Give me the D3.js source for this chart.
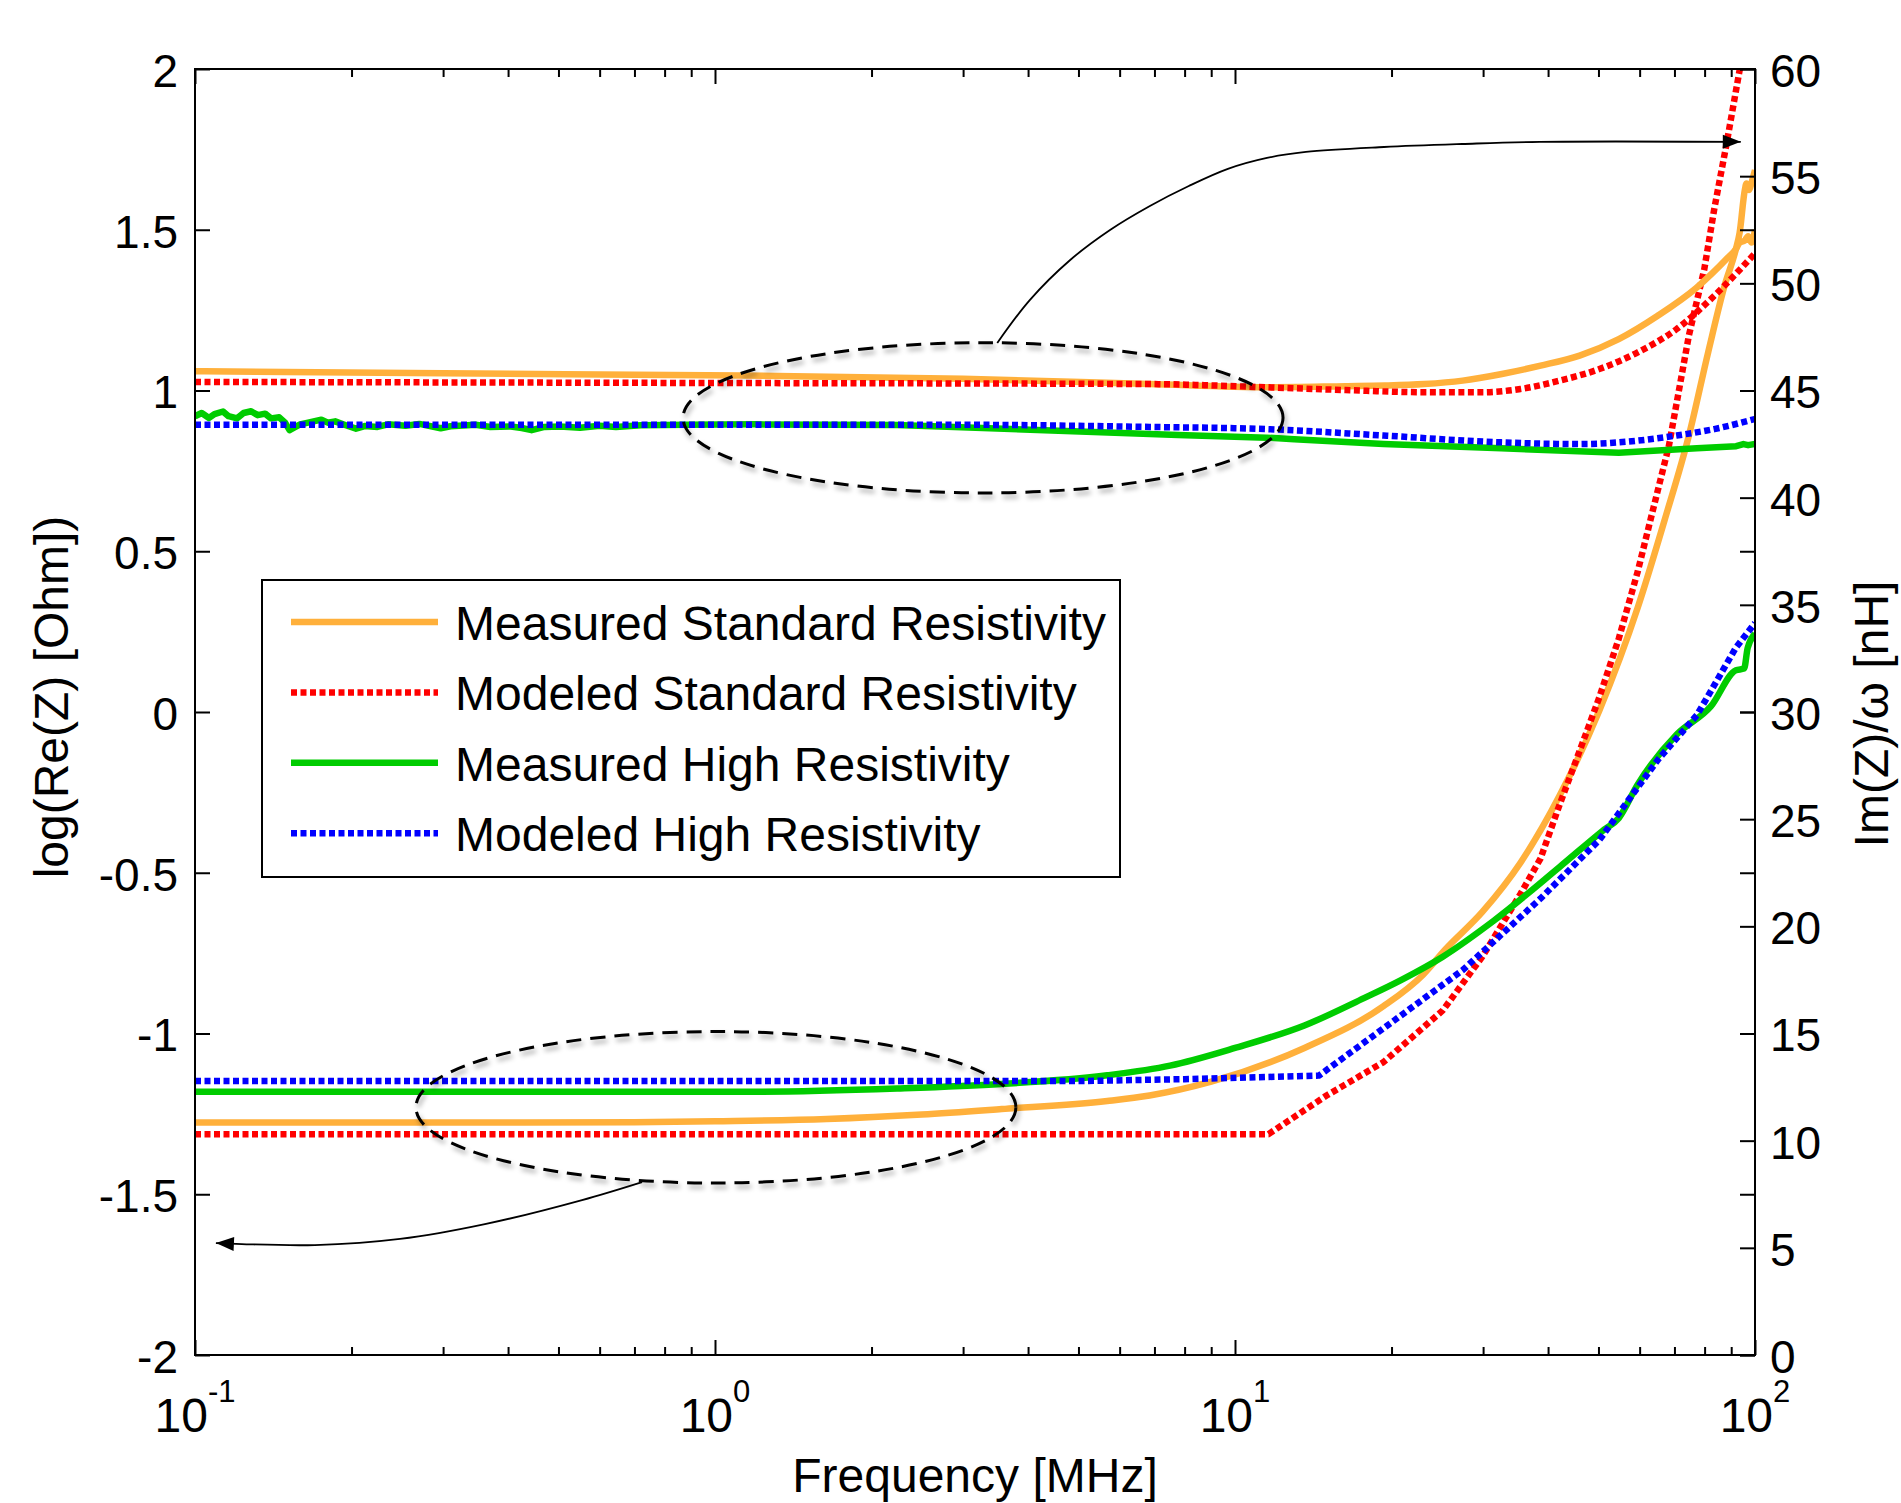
<!DOCTYPE html>
<html><head><meta charset="utf-8">
<script src="https://cdn.jsdelivr.net/npm/d3@7"></script>
<style>
html,body{margin:0;padding:0;background:#fff;}
svg text{font-family:"Liberation Sans",Arial,Helvetica,sans-serif;fill:#000;}
</style></head>
<body>
<svg id="chart" width="1901" height="1503"></svg>
<script>
// ---------- DATA ----------
// Frequency in MHz; log(Re(Z)) on left axis; Im(Z)/omega [nH] on right axis
const xMajorTicks = [0.1, 1, 10, 100];
const xMajorLabels = [["10","-1"],["10","0"],["10","1"],["10","2"]];
const leftTicks = [-2,-1.5,-1,-0.5,0,0.5,1,1.5,2];
const rightTicks = [0,5,10,15,20,25,30,35,40,45,50,55,60];

const seriesNames = ["Measured Standard Resistivity","Modeled Standard Resistivity","Measured High Resistivity","Modeled High Resistivity"];

// log(Re(Z)) curves (left axis)
const measStdRe = [[0.1,-1.277],[0.3,-1.277],[0.7,-1.276],[1,-1.273],[1.64,-1.266],[2.5,-1.252],[3.56,-1.235],[5.68,-1.21],[6.85,-1.193],[9,-1.15],[13.6,-1.045],[19.3,-0.915],[23,-0.817],[25.4,-0.738],[29.9,-0.622],[35.4,-0.469],[42.1,-0.26],[50.2,0.005],[59.5,0.325],[67.1,0.6],[74.6,0.859],[81.3,1.12],[87.4,1.326],[91.9,1.44],[93.4,1.49],[95.6,1.624],[96.3,1.644],[97.3,1.624],[98.8,1.655],[100,1.686]];
const modStdRe = [[0.1,-1.313],[11.6,-1.313],[15,-1.193],[19.3,-1.089],[25.1,-0.928],[29.9,-0.761],[35.4,-0.566],[38.7,-0.455],[42.1,-0.288],[46,-0.121],[50.2,0.046],[54.7,0.228],[59.5,0.437],[63,0.6],[68.3,0.828],[74.6,1.17],[79.9,1.378],[83.5,1.565],[88,1.76],[93.5,2.0],[100,2.35]];
const measHighRe = [[0.1,-1.181],[1.2,-1.181],[2.24,-1.171],[3.56,-1.157],[5.68,-1.13],[7.5,-1.1],[10,-1.045],[13.6,-0.975],[17.7,-0.89],[20.9,-0.833],[25.1,-0.761],[31.4,-0.65],[42.1,-0.482],[50.9,-0.37],[54.7,-0.33],[59.5,-0.225],[70.7,-0.07],[82.3,0.018],[91.9,0.13],[95.3,0.135],[96.8,0.199],[100,0.243]];
const modHighRe = [[0.1,-1.148],[5,-1.148],[8,-1.142],[14.5,-1.131],[19.3,-0.984],[27.4,-0.803],[38.7,-0.58],[50.2,-0.398],[65.1,-0.148],[77.3,-0.01],[91.9,0.2],[100,0.277]];

// Im(Z)/omega curves (right axis)
const measStdL = [[0.1,45.9],[0.3,45.8],[1.13,45.7],[3,45.55],[6.85,45.3],[11.5,45.15],[16.3,45.2],[19.4,45.23],[23.1,45.3],[27.4,45.46],[32.6,45.77],[38.7,46.16],[46,46.63],[54.7,47.4],[65,48.49],[77.3,49.81],[88.7,51.2],[91.9,51.6],[93.4,51.9],[95.6,52.0],[97,52.2],[98.5,51.9],[100,52.5]];
const modStdL = [[0.1,45.4],[1,45.35],[6.85,45.3],[11.5,45.15],[16.3,45.02],[23.1,44.92],[29.9,44.92],[35.4,45.07],[42.1,45.46],[50.2,46.0],[59.5,46.78],[70.7,47.87],[83.5,49.42],[100,51.4]];
const measHighL = [[0.1,43.8],[0.103,43.95],[0.1064,43.72],[0.109,43.9],[0.1132,44.02],[0.116,43.8],[0.1205,43.7],[0.124,43.95],[0.1282,44.03],[0.132,43.85],[0.1364,43.92],[0.14,43.7],[0.1452,43.75],[0.149,43.5],[0.152,43.15],[0.156,43.3],[0.1593,43.42],[0.165,43.5],[0.175,43.64],[0.18,43.5],[0.186,43.56],[0.195,43.38],[0.204,43.22],[0.212,43.34],[0.2243,43.3],[0.235,43.42],[0.254,43.36],[0.27,43.44],[0.2968,43.24],[0.31,43.33],[0.3465,43.4],[0.37,43.3],[0.405,43.32],[0.425,43.25],[0.444,43.15],[0.47,43.3],[0.5035,43.32],[0.55,43.26],[0.6,43.36],[0.645,43.3],[0.72,43.38],[0.882,43.4],[1.2,43.42],[2.24,43.39],[4.17,43.16],[7.77,42.92],[11.5,42.8],[13,42.72],[19.3,42.5],[32.5,42.3],[54.7,42.1],[77.3,42.3],[92,42.4],[95,42.5],[97,42.45],[100,42.5]];
const modHighL = [[0.1,43.4],[3,43.4],[6.85,43.3],[11.5,43.2],[19.3,42.9],[32.5,42.58],[46,42.5],[59.5,42.66],[70.7,42.9],[83.5,43.2],[100,43.67]];

// Annotations (data coordinates)
const upperEllipse = {fLeft:0.868, fRight:12.37, vTop:47.23, vBottom:40.22};   // right axis
const lowerEllipse = {fLeft:0.266, fRight:3.79, vTop:-0.994, vBottom:-1.465};  // left axis
const upperArrow = [[3.49,47.22],[4.03,49.22],[4.82,51.09],[5.75,52.49],[6.86,53.61],[8.15,54.54],[9.69,55.34],[11.52,55.85],[13.69,56.13],[19.34,56.36],[27.33,56.5],[38.6,56.6],[93.9,56.6]];
const lowerArrow = [[0.724,-1.462],[0.555,-1.518],[0.361,-1.593],[0.248,-1.639],[0.17,-1.658],[0.123,-1.655],[0.1097,-1.652]];

// ---------- CHART ----------
const svg = d3.select("#chart");
const L = 195, R = 1755, T = 69, B = 1355;
const x = d3.scaleLog().domain([0.1,100]).range([L,R]);
const yL = d3.scaleLinear().domain([-2,2]).range([B,T]);
const yR = d3.scaleLinear().domain([0,60]).range([B,T]);

const defs = svg.append("defs");
defs.append("clipPath").attr("id","clip").append("rect")
  .attr("x",L).attr("y",T).attr("width",R-L).attr("height",B-T);
const f = defs.append("filter").attr("id","shadow").attr("x","-10%").attr("y","-20%").attr("width","120%").attr("height","140%");
f.append("feGaussianBlur").attr("in","SourceAlpha").attr("stdDeviation",2.5).attr("result","blur");
f.append("feOffset").attr("in","blur").attr("dx",2).attr("dy",4).attr("result","off");
f.append("feFlood").attr("flood-color","#000").attr("flood-opacity",0.35);
f.append("feComposite").attr("in2","off").attr("operator","in").attr("result","sh");
const fm = f.append("feMerge");
fm.append("feMergeNode").attr("in","sh");
fm.append("feMergeNode").attr("in","SourceGraphic");
defs.append("marker").attr("id","arrow").attr("markerUnits","userSpaceOnUse")
  .attr("markerWidth",24).attr("markerHeight",20).attr("refX",0).attr("refY",0)
  .attr("viewBox","-20 -10 24 20").attr("orient","auto")
  .append("path").attr("d","M0,0 L-18,-7 L-18,7 Z").attr("fill","#000");

const styles = [
  {color:"#FFB03B", width:6.5, dash:null},
  {color:"#FF0000", width:6.5, dash:"6,3.5"},
  {color:"#00CC00", width:6.5, dash:null},
  {color:"#0000FF", width:6.5, dash:"6,3.5"}
];

const gLines = svg.append("g").attr("clip-path","url(#clip)");
function drawSeries(data, yScale, st, curve){
  const line = d3.line().x(d=>x(d[0])).y(d=>yScale(d[1])).curve(curve);
  gLines.append("path").datum(data).attr("d",line)
    .attr("fill","none").attr("stroke",st.color).attr("stroke-width",st.width)
    .attr("stroke-dasharray",st.dash).attr("stroke-linejoin","round");
}
const mono = d3.curveMonotoneX, lin = d3.curveLinear;
drawSeries(measStdRe, yL, styles[0], mono);
drawSeries(modStdRe, yL, styles[1], lin);
drawSeries(measHighRe, yL, styles[2], mono);
drawSeries(modHighRe, yL, styles[3], lin);
drawSeries(measStdL, yR, styles[0], mono);
drawSeries(modStdL, yR, styles[1], mono);
drawSeries(measHighL, yR, styles[2], lin);
drawSeries(modHighL, yR, styles[3], mono);

// ellipses
function drawEllipse(e, yScale){
  const x1 = x(e.fLeft), x2 = x(e.fRight), y1 = yScale(e.vTop), y2 = yScale(e.vBottom);
  svg.append("ellipse").attr("cx",(x1+x2)/2).attr("cy",(y1+y2)/2)
    .attr("rx",(x2-x1)/2).attr("ry",Math.abs(y2-y1)/2)
    .attr("fill","none").attr("stroke","#000").attr("stroke-width",3)
    .attr("stroke-dasharray","15,9").attr("filter","url(#shadow)");
}
drawEllipse(upperEllipse, yR);
drawEllipse(lowerEllipse, yL);

// arrows
svg.append("path").datum(upperArrow)
  .attr("d", d3.line().x(d=>x(d[0])).y(d=>yR(d[1])).curve(d3.curveCatmullRom))
  .attr("fill","none").attr("stroke","#000").attr("stroke-width",1.8).attr("marker-end","url(#arrow)");
svg.append("path").datum(lowerArrow)
  .attr("d", d3.line().x(d=>x(d[0])).y(d=>yL(d[1])).curve(d3.curveCatmullRom))
  .attr("fill","none").attr("stroke","#000").attr("stroke-width",1.8).attr("marker-end","url(#arrow)");

// axes
const minorTicks = [];
[0.1,1,10].forEach(dec=>{for(let k=2;k<=9;k++) minorTicks.push(+(dec*k).toPrecision(3));});
function styleAxis(g){
  g.select(".domain").remove();
  g.selectAll(".tick line").attr("stroke","#000").attr("stroke-width",2);
  g.selectAll("text").attr("font-size",46).attr("fill","#000").attr("font-family","Liberation Sans, Arial, sans-serif");
}
svg.append("g").attr("transform",`translate(0,${B})`)
  .call(d3.axisBottom(x).tickValues(minorTicks).tickSize(-8).tickFormat("")).call(styleAxis);
svg.append("g").attr("transform",`translate(0,${B})`)
  .call(d3.axisBottom(x).tickValues(xMajorTicks).tickSize(-15).tickFormat("")).call(styleAxis);
svg.append("g").attr("transform",`translate(0,${T})`)
  .call(d3.axisTop(x).tickValues(minorTicks).tickSize(-8).tickFormat("")).call(styleAxis);
svg.append("g").attr("transform",`translate(0,${T})`)
  .call(d3.axisTop(x).tickValues(xMajorTicks).tickSize(-15).tickFormat("")).call(styleAxis);

const gl = svg.append("g").attr("transform",`translate(${L},0)`)
  .call(d3.axisLeft(yL).tickValues(leftTicks).tickSize(-15).tickPadding(17).tickFormat(d=>String(d)))
  .call(styleAxis);
gl.selectAll("text").attr("dy","0.38em");
svg.append("g").attr("transform",`translate(${R},0)`)
  .call(d3.axisRight(yL).tickValues(leftTicks).tickSize(-15).tickFormat("")).call(styleAxis);
const gr = svg.append("g").attr("transform",`translate(${R},0)`)
  .call(d3.axisRight(yR).tickValues(rightTicks).tickSize(-15).tickPadding(15).tickFormat(d=>String(d)))
  .call(styleAxis);
gr.selectAll("text").attr("dy","0.38em");

// x major labels with superscripts
xMajorTicks.forEach((v,i)=>{
  const t = svg.append("text").attr("x",x(v)).attr("y",1432).attr("text-anchor","middle").attr("font-size",48);
  t.append("tspan").text(xMajorLabels[i][0]);
  t.append("tspan").attr("font-size",31).attr("dy",-30).text(xMajorLabels[i][1]);
});

// box
svg.append("rect").attr("x",L).attr("y",T).attr("width",R-L).attr("height",B-T)
  .attr("fill","none").attr("stroke","#000").attr("stroke-width",2);

// axis labels
svg.append("text").attr("x",(L+R)/2).attr("y",1492).attr("text-anchor","middle").attr("font-size",48).text("Frequency [MHz]");
svg.append("text").attr("transform","translate(68,697) rotate(-90)").attr("text-anchor","middle").attr("font-size",48).text("log(Re(Z) [Ohm])");
svg.append("text").attr("transform","translate(1888,714) rotate(-90)").attr("text-anchor","middle").attr("font-size",48).text("Im(Z)/ω [nH]");

// legend
const lg = svg.append("g");
lg.append("rect").attr("x",262).attr("y",580).attr("width",858).attr("height",297)
  .attr("fill","#fff").attr("stroke","#000").attr("stroke-width",2);
seriesNames.forEach((name,i)=>{
  const yy = 622 + i*70.4;
  lg.append("line").attr("x1",291).attr("x2",438).attr("y1",yy).attr("y2",yy)
    .attr("stroke",styles[i].color).attr("stroke-width",styles[i].width).attr("stroke-dasharray",styles[i].dash);
  lg.append("text").attr("x",455).attr("y",yy+18).attr("font-size",48).text(name);
});
</script>
</body></html>
